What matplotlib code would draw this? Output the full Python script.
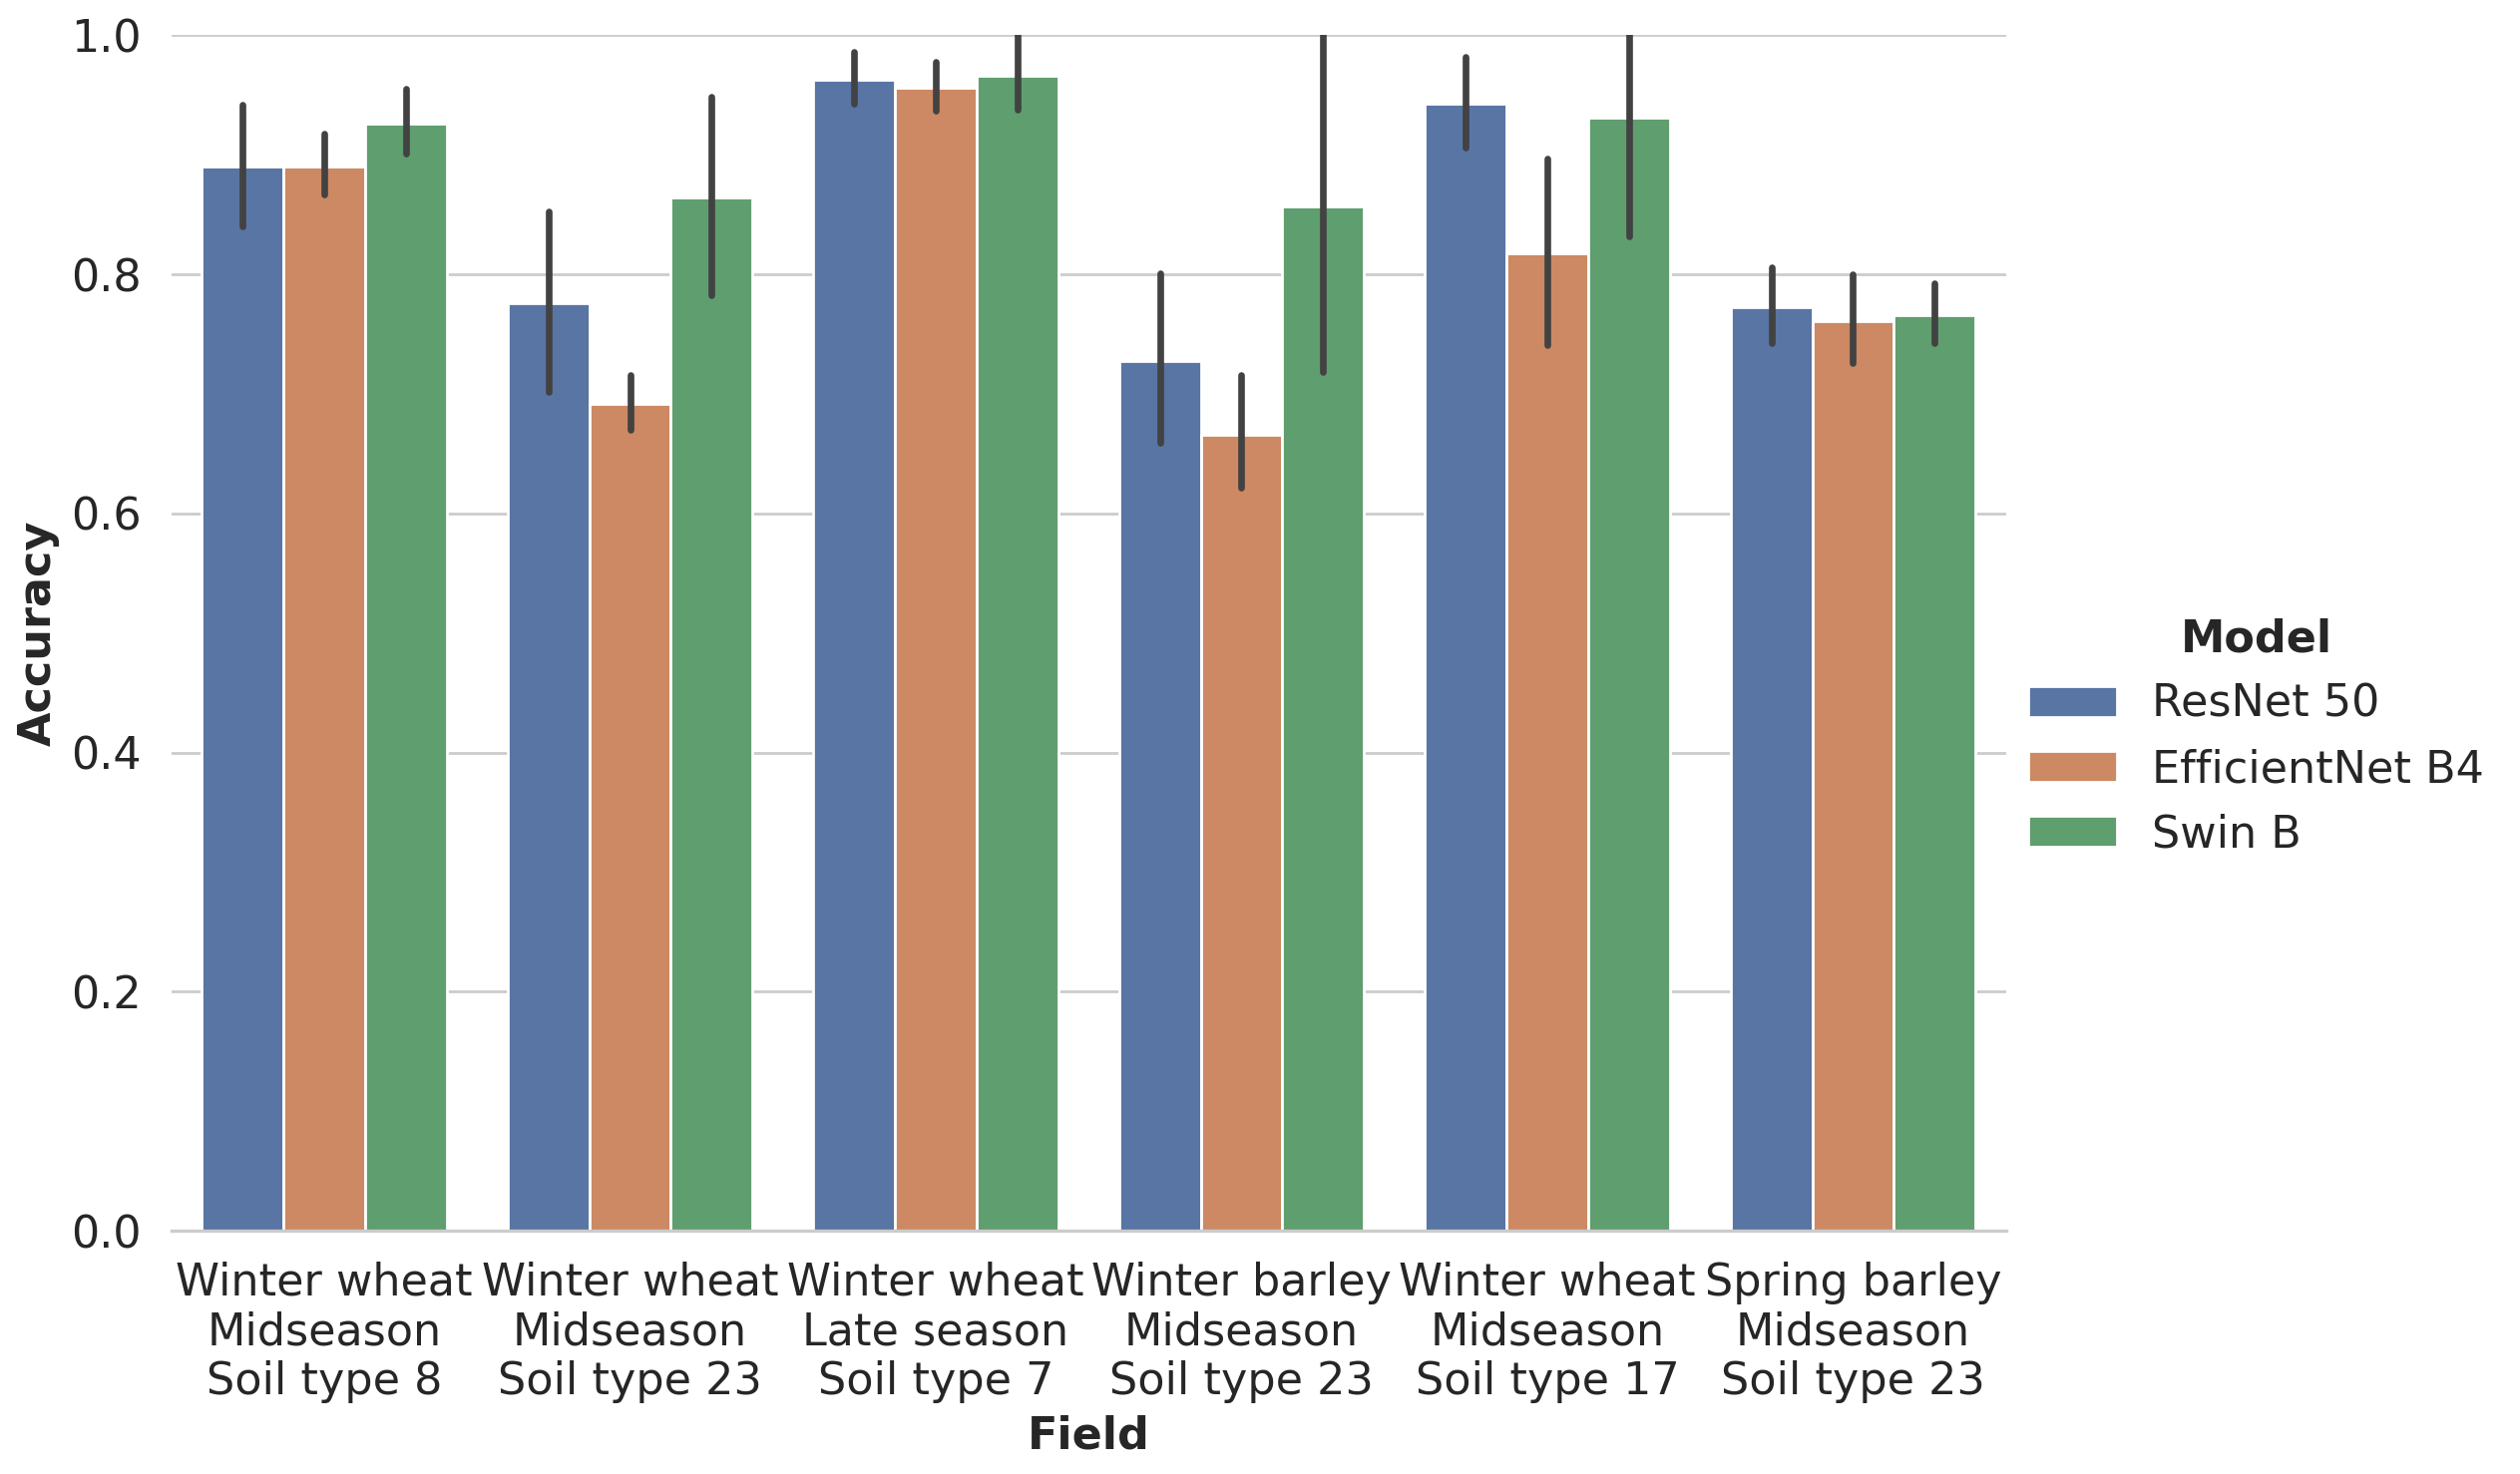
import numpy as np
import matplotlib
matplotlib.use("Agg")
import matplotlib.pyplot as plt
import seaborn as sns

fields = ["Winter wheat\nMidseason\nSoil type 8",
          "Winter wheat\nMidseason\nSoil type 23",
          "Winter wheat\nLate season\nSoil type 7",
          "Winter barley\nMidseason\nSoil type 23",
          "Winter wheat\nMidseason\nSoil type 17",
          "Spring barley\nMidseason\nSoil type 23"]
models = ["ResNet 50", "EfficientNet B4", "Swin B"]

# mean accuracy per field for each model
resnet = [0.890, 0.776, 0.963, 0.728, 0.943, 0.773]
effnet = [0.890, 0.692, 0.956, 0.666, 0.818, 0.761]
swin = [0.926, 0.864, 0.966, 0.857, 0.931, 0.766]

# confidence interval bounds
resnet_lo = [0.840, 0.702, 0.943, 0.659, 0.906, 0.743]
resnet_hi = [0.942, 0.853, 0.986, 0.801, 0.982, 0.806]
effnet_lo = [0.867, 0.670, 0.937, 0.622, 0.741, 0.726]
effnet_hi = [0.918, 0.716, 0.978, 0.716, 0.897, 0.800]
swin_lo = [0.901, 0.783, 0.938, 0.718, 0.832, 0.743]
swin_hi = [0.955, 0.949, 1.010, 1.030, 1.010, 0.793]

means = [resnet, effnet, swin]
lows = [resnet_lo, effnet_lo, swin_lo]
highs = [resnet_hi, effnet_hi, swin_hi]

sns.set_theme(style="whitegrid", context="talk")
colors = [sns.desaturate(c, 0.75) for c in sns.color_palette("deep", 3)]
plt.rcParams['font.family'] = ['DejaVu Sans']

fs = 16

fig = plt.figure(figsize=(12.63, 7.39), dpi=200)
ax = fig.add_axes([0.068, 0.165, 0.728, 0.811])

x = np.arange(len(fields))
w = 0.8 / 3
for i, m in enumerate(models):
    pos = x - 0.4 + w * (i + 0.5)
    ax.bar(pos, means[i], width=w, color=colors[i], edgecolor="white",
           linewidth=1.0, label=m, zorder=2)
    for p, lo, hi in zip(pos, lows[i], highs[i]):
        ax.plot([p, p], [lo, hi], color="#424242", linewidth=2.4,
                solid_capstyle="round", zorder=3)

ax.set_ylim(0, 1.0)
ax.set_xlim(-0.5, len(fields) - 0.5)
ax.set_xticks(x)
ax.set_xticklabels(fields, fontsize=fs)
ax.set_yticks(np.arange(0, 1.01, 0.2))
ax.set_yticklabels([f"{v:.1f}" for v in np.arange(0, 1.01, 0.2)], fontsize=fs)
ax.tick_params(axis="x", pad=2)
ax.tick_params(axis="y", pad=1.7)
ax.grid(axis="x", visible=False)
ax.grid(axis="y", color="#cccccc", linewidth=1.0)
ax.set_axisbelow(True)
ax.set_xlabel("Field", fontsize=fs, fontweight="bold", labelpad=4)
ax.set_ylabel("Accuracy", fontsize=fs, fontweight="bold")
for s in ["left", "top", "right"]:
    ax.spines[s].set_visible(False)
ax.spines["bottom"].set_color("#cccccc")
ax.spines["bottom"].set_linewidth(1.2)

leg = fig.legend(loc="center left", bbox_to_anchor=(0.789, 0.5), frameon=False,
                 fontsize=fs, title="Model",
                 title_fontproperties={"weight": "bold", "size": fs})

fig.savefig("out.png", dpi=200)
